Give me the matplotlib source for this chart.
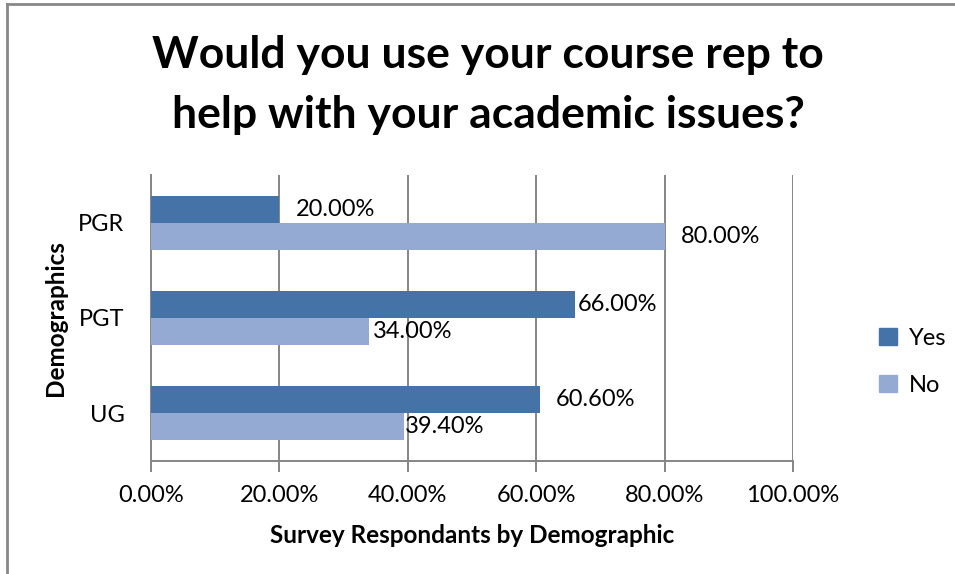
import matplotlib
matplotlib.use("Agg")
import matplotlib.pyplot as plt
from matplotlib.lines import Line2D
from matplotlib.patches import Patch
import numpy as np

plt.rcParams['font.family'] = ['Lato', 'DejaVu Sans']

# Survey data
categories = ["UG", "PGT", "PGR"]
yes_values = [60.6, 66.0, 20.0]
no_values = [39.4, 34.0, 80.0]
series_names = ["Yes", "No"]
x_ticks = [0, 20, 40, 60, 80, 100]

# Label nudges (in percentage points) past the bar end
yes_label_pad = [2.5, 0.5, 2.6]
no_label_pad = [0.2, 0.5, 2.6]

yes_color = "#4573A7"
no_color = "#95AAD3"
grid_color = "#868686"
fs = 17

fig = plt.figure(figsize=(9.55, 5.74), dpi=100)
ax = fig.add_axes([151 / 955, 1 - 461 / 574, 642 / 955, 286 / 574])

y = np.arange(len(categories))
h = 0.283
ax.barh(y + h / 2, yes_values, height=h, color=yes_color, label=series_names[0], zorder=3)
ax.barh(y - h / 2, no_values, height=h, color=no_color, label=series_names[1], zorder=3)

for i in range(len(categories)):
    ax.text(yes_values[i] + yes_label_pad[i], y[i] + h / 2, f"{yes_values[i]:.2f}%",
            va="center", ha="left", fontsize=fs, color="black")
    ax.text(no_values[i] + no_label_pad[i], y[i] - h / 2, f"{no_values[i]:.2f}%",
            va="center", ha="left", fontsize=fs, color="black")

ax.set_xlim(0, 100)
ax.set_ylim(-0.5, len(categories) - 0.5)
ax.set_xticks(x_ticks)
ax.set_xticklabels([f"{v:.2f}%" for v in x_ticks], fontsize=fs)
ax.set_yticks(y)
ax.set_yticklabels(categories, fontsize=fs)
ax.xaxis.grid(True, color=grid_color, linewidth=1.4, zorder=0)
ax.tick_params(axis="x", length=8, width=1.4, color=grid_color, pad=9)
ax.tick_params(axis="y", length=0, pad=19)
for s in ["top", "right"]:
    ax.spines[s].set_visible(False)
for s in ["left", "bottom"]:
    ax.spines[s].set_color(grid_color)
    ax.spines[s].set_linewidth(1.4)

ax.set_xlabel("Survey Respondants by Demographic", fontsize=17.5, fontweight="bold", labelpad=13)
ax.set_ylabel("Demographics", fontsize=17.5, fontweight="bold", labelpad=8)

fig.text(0.511, 1 - 85 / 574, "Would you use your course rep to\nhelp with your academic issues?",
         ha="center", va="center", fontsize=32, fontweight="bold", linespacing=1.6)

handles = [Patch(color=yes_color), Patch(color=no_color)]
fig.legend(handles, series_names, loc="center left", bbox_to_anchor=(879 / 955, 1 - 362 / 574),
           frameon=False, fontsize=fs, handlelength=0.75, handleheight=0.75,
           handletextpad=0.5, labelspacing=1.1, borderpad=0, borderaxespad=0)

# Outer chart border (left and top edges)
fig.add_artist(Line2D([7 / 955, 7 / 955], [0, 1 - 4 / 574], transform=fig.transFigure,
                      color="#888888", linewidth=2))
fig.add_artist(Line2D([7 / 955, 1], [1 - 4 / 574, 1 - 4 / 574], transform=fig.transFigure,
                      color="#888888", linewidth=2))

fig.savefig("out.png", dpi=100)
